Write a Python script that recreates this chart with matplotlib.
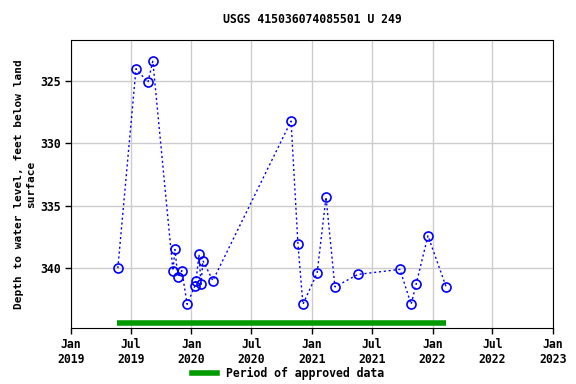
import matplotlib
matplotlib.use("Agg")
import matplotlib.pyplot as plt
import pandas as pd

# measurement dates and depths (ft below land surface)
dates = pd.to_datetime([
    "2019-05-23", "2019-07-17", "2019-08-22", "2019-09-06",
    "2019-11-06", "2019-11-12", "2019-11-21", "2019-12-03", "2019-12-19",
    "2020-01-12", "2020-01-15", "2020-01-24", "2020-01-30", "2020-02-05",
    "2020-03-06", "2020-10-29", "2020-11-19", "2020-12-04",
    "2021-01-16", "2021-02-12", "2021-03-11", "2021-05-20",
    "2021-09-24", "2021-10-28", "2021-11-12", "2021-12-18", "2022-02-11",
])
depths = [
    340.0, 324.0, 325.1, 323.4,
    340.2, 338.5, 340.7, 340.2, 342.9,
    341.4, 341.0, 338.9, 341.3, 339.4,
    341.0, 328.2, 338.1, 342.9,
    340.4, 334.3, 341.5, 340.5,
    340.1, 342.9, 341.3, 337.4, 341.5,
]
approved_start = pd.Timestamp("2019-05-21")
approved_end = pd.Timestamp("2022-02-12")

tick_dates = pd.to_datetime(["2019-01-01", "2019-07-01", "2020-01-01", "2020-07-01",
                             "2021-01-01", "2021-07-01", "2022-01-01", "2022-07-01",
                             "2023-01-01"])
tick_labels = ["Jan\n2019", "Jul\n2019", "Jan\n2020", "Jul\n2020", "Jan\n2021",
               "Jul\n2021", "Jan\n2022", "Jul\n2022", "Jan\n2023"]

plt.rcParams["font.family"] = "DejaVu Sans Mono"
plt.rcParams["font.weight"] = "bold"
plt.rcParams["font.size"] = 8.3

fig = plt.figure(figsize=(5.76, 3.84), dpi=100)
ax = fig.add_axes([71 / 576, 1 - 328 / 384, (553 - 71) / 576, (328 - 40) / 384])

ax.plot(dates, depths, color="blue", linestyle=(0, (1.5, 2)), linewidth=1,
        marker="o", markersize=6.5, markerfacecolor="none", markeredgecolor="blue",
        markeredgewidth=1.2, zorder=3)
ax.plot([approved_start, approved_end], [344.4, 344.4], color="#009900",
        linewidth=4, solid_capstyle="butt", zorder=2)

ax.set_xlim(pd.Timestamp("2019-01-01"), pd.Timestamp("2023-01-01"))
ax.set_ylim(344.8, 321.7)
ax.set_yticks([325, 330, 335, 340])
ax.set_xticks(tick_dates)
ax.set_xticklabels(tick_labels)
ax.grid(True, color="#cccccc", linewidth=1)
ax.set_axisbelow(True)
ax.tick_params(length=4, width=1)

ax.set_title("USGS 415036074085501 U 249", fontsize=8.3, fontweight="bold", pad=12)
ax.set_ylabel("Depth to water level, feet below land\nsurface", fontsize=8,
              fontweight="bold", labelpad=3)

fig.legend(handles=[plt.Line2D([], [], color="#009900", linewidth=4)],
           labels=["Period of approved data"], loc="center",
           bbox_to_anchor=(0.5, 1 - 373 / 384), frameon=False, fontsize=8.3,
           handlelength=2.2)

fig.savefig("out.png", dpi=100)
